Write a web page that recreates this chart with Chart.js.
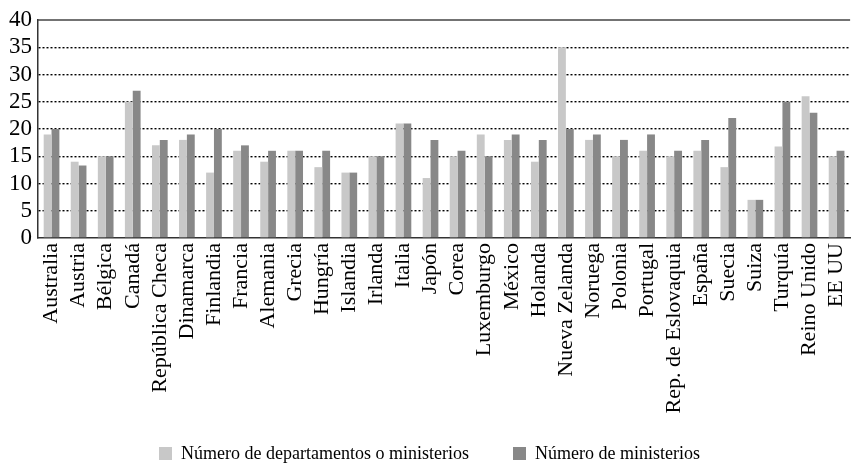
<!DOCTYPE html>
<html>
<head>
<meta charset="utf-8">
<script src="https://cdn.jsdelivr.net/npm/chart.js@4/dist/chart.umd.min.js"></script>
<style>
  html, body { margin: 0; padding: 0; background: #fff; overflow: hidden; }
  #wrap { position: relative; width: 868px; height: 464px; }
  #legend {
    position: absolute; left: 0; width: 859px; top: 443px;
    display: flex; justify-content: center; gap: 44px;
    font-family: 'Liberation Serif', 'Times New Roman', serif; font-size: 18px; color: #000;
  }
  #legend span.item { display: flex; align-items: center; white-space: nowrap; }
  #legend span.box { display: inline-block; width: 13px; height: 13px; margin-right: 9px; }
</style>
</head>
<body>
<div id="wrap">
  <canvas id="chart"></canvas>
  <div id="legend"></div>
</div>
<script>
// Countries on the x axis
const categories = [
  "Australia", "Austria", "Bélgica", "Canadá", "República Checa", "Dinamarca",
  "Finlandia", "Francia", "Alemania", "Grecia", "Hungría", "Islandia", "Irlanda",
  "Italia", "Japón", "Corea", "Luxemburgo", "México", "Holanda", "Nueva Zelanda",
  "Noruega", "Polonia", "Portugal", "Rep. de Eslovaquia", "España", "Suecia",
  "Suiza", "Turquía", "Reino Unido", "EE UU"
];

// Series values
const departamentos = [19, 14, 15, 25, 17, 18, 12, 16, 14, 16, 13, 12, 15, 21, 11,
  15, 19, 18, 14, 35, 18, 15, 16, 15, 16, 13, 7, 16.8, 26, 15];
const ministerios = [20, 13.3, 15, 27, 18, 19, 20, 17, 16, 16, 16, 12, 15, 21, 18,
  16, 15, 19, 18, 20, 19, 18, 19, 16, 18, 22, 7, 25, 23, 16];

const seriesNames = ["Número de departamentos o ministerios", "Número de ministerios"];
const seriesColors = ["#c8c8c8", "#888888"];
const yTicks = [0, 5, 10, 15, 20, 25, 30, 35, 40];

const serif = "'Liberation Serif', 'Times New Roman', serif";

// solid line along the top of the plot (the 40 line)
const topLine = {
  id: "topLine",
  afterDraw(chart) {
    const { ctx, chartArea } = chart;
    ctx.save();
    ctx.strokeStyle = "#444";
    ctx.lineWidth = 1.5;
    ctx.beginPath();
    ctx.moveTo(chartArea.left, chartArea.top);
    ctx.lineTo(chartArea.right, chartArea.top);
    ctx.stroke();
    ctx.restore();
  },
};

const ctx = document.getElementById("chart").getContext("2d");
const chart = new Chart(ctx, {
  type: "bar",
  data: {
    labels: categories,
    datasets: seriesNames.map((name, i) => ({
      label: name,
      data: i === 0 ? departamentos : ministerios,
      backgroundColor: seriesColors[i],
      barPercentage: 1,
      categoryPercentage: 0.58,
    })),
  },
  options: {
    responsive: true,
    maintainAspectRatio: false,
    animation: false,
    layout: { padding: { top: 20, right: 1, left: 0, bottom: 0 } },
    plugins: {
      tooltip: { enabled: false },
      legend: { display: false },
    },
    scales: {
      x: {
        afterFit: (s) => { s.height = 226; },
        grid: { display: false, drawTicks: false },
        border: { color: "#333", width: 1.5 },
        ticks: {
          color: "#000",
          font: { family: serif, size: 22 },
          minRotation: 90,
          maxRotation: 90,
          autoSkip: false,
          padding: 5,
        },
      },
      y: {
        min: 0,
        max: 40,
        afterBuildTicks: (s) => { s.ticks = yTicks.map((v) => ({ value: v })); },
        afterFit: (s) => { s.width = 38; },
        grid: {
          drawTicks: false,
          color: (c) => (c.tick.value === 0 || c.tick.value === 40 ? "rgba(0,0,0,0)" : "#000"),
          lineWidth: 1.4,
        },
        border: { color: "#333", width: 1.5, dash: [2, 2] },
        ticks: {
          color: "#000",
          font: { family: serif, size: 23 },
          autoSkip: false,
          padding: 6,
        },
      },
    },
  },
  plugins: [topLine],
});

// legend built from the same series arrays
const legendEl = document.getElementById("legend");
seriesNames.forEach((name, i) => {
  const item = document.createElement("span");
  item.className = "item";
  const box = document.createElement("span");
  box.className = "box";
  box.style.background = seriesColors[i];
  item.appendChild(box);
  item.appendChild(document.createTextNode(name));
  legendEl.appendChild(item);
});
</script>
</body>
</html>
